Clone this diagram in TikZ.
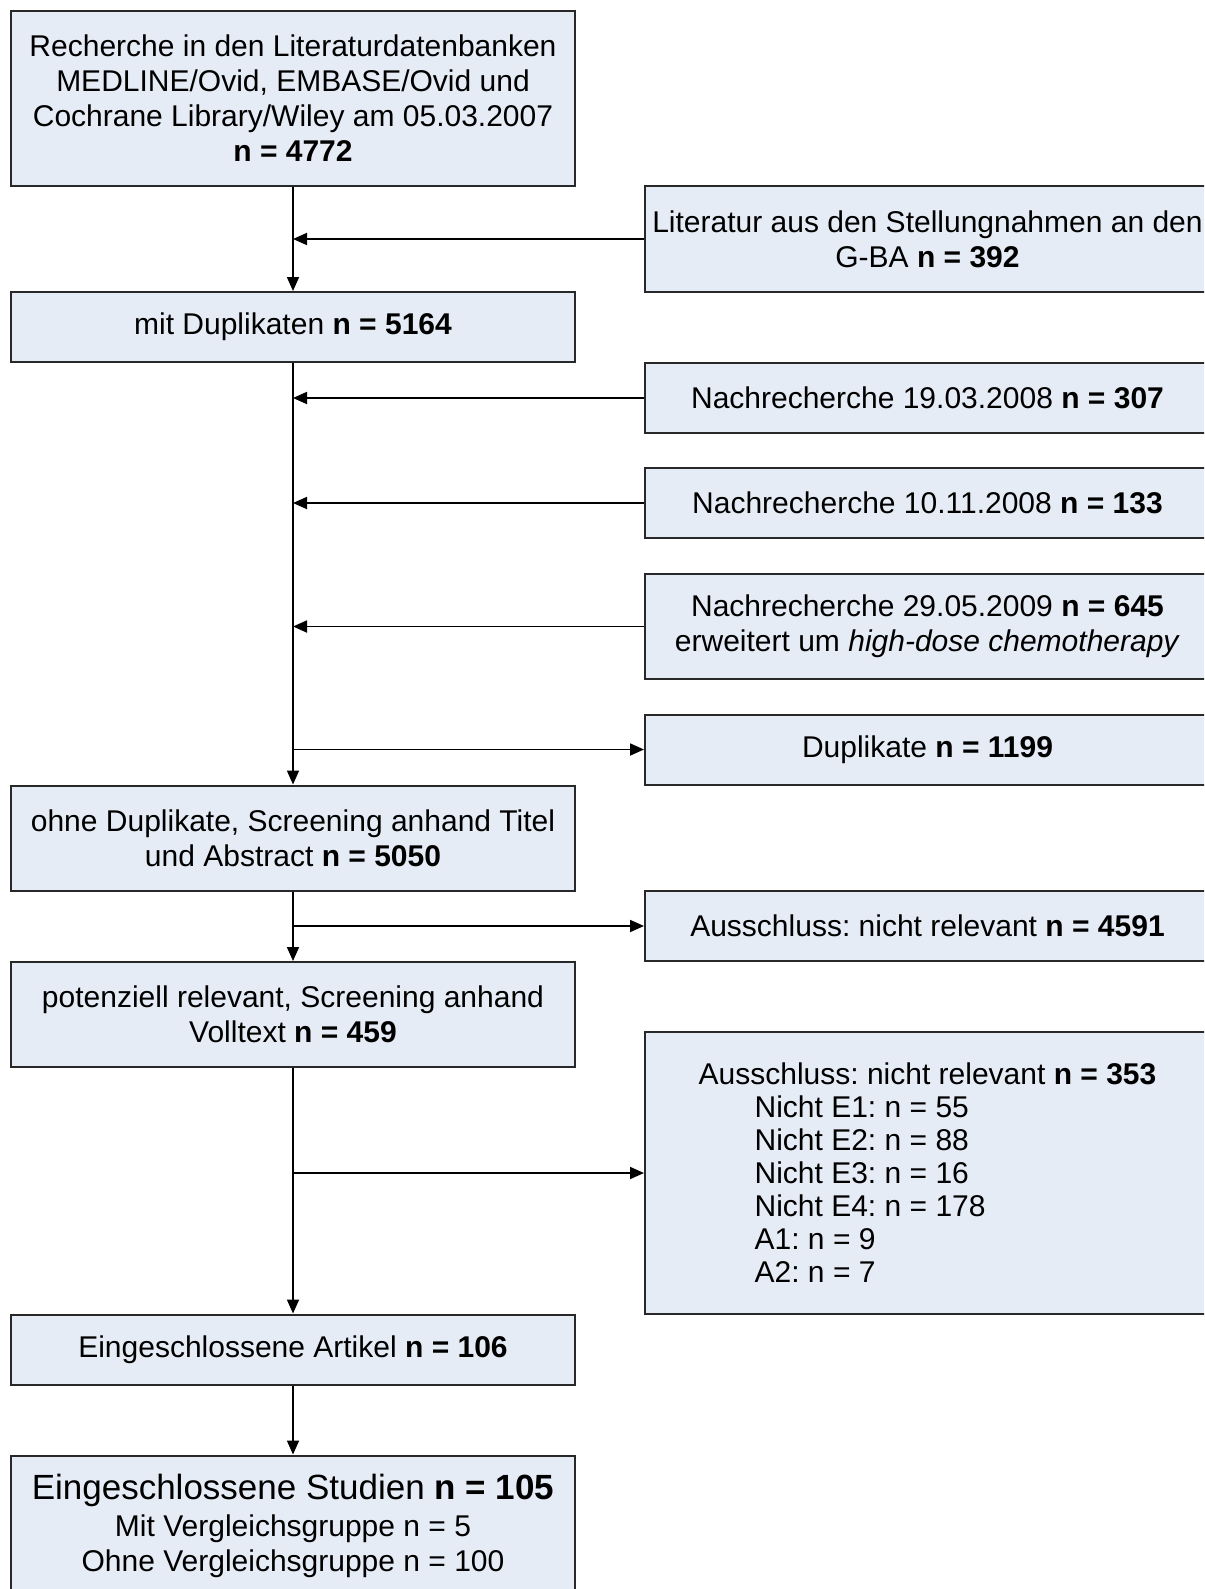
\documentclass[tikz,border=0pt]{standalone}
\usepackage{fontspec}
\setmainfont{Liberation Sans}
\frenchspacing
\usetikzlibrary{arrows.meta}
\definecolor{boxfill}{RGB}{230,236,246}
\definecolor{boxline}{RGB}{40,40,40}
\tikzset{
  box/.style={draw=boxline, line width=1pt, fill=boxfill, rectangle, align=center, inner sep=0pt,
    font=\fontsize{15}{17.5}\selectfont},
  arr/.style={draw=black, line width=0.9pt, -{Triangle[length=7pt,width=6pt]}},
  ln/.style={draw=black, line width=0.9pt}
}
\begin{document}
\begin{tikzpicture}[x=0.5pt,y=-0.5pt]
\useasboundingbox (0,0) rectangle (1204,1589);
\fill[white] (0,0) rectangle (1204,1589);
\clip (0,0) rectangle (1204,1589);
% left column
\node[box, minimum width=282pt, minimum height=87.5pt] (B1) at (293,98.5)
  {Recherche in den Literaturdatenbanken\\MEDLINE/Ovid, EMBASE/Ovid und\\Cochrane Library/Wiley am 05.03.2007\\\textbf{n = 4772}};
\node[box, minimum width=282pt, minimum height=35pt] (B3) at (293,327)
  {mit Duplikaten \textbf{n = 5164}};
\node[box, minimum width=282pt, minimum height=52.5pt] (B5) at (293,838)
  {ohne Duplikate, Screening anhand Titel\\und Abstract \textbf{n = 5050}};
\node[box, minimum width=282pt, minimum height=52.5pt] (B7) at (293,1014.5)
  {potenziell relevant, Screening anhand\\Volltext \textbf{n = 459}};
\node[box, minimum width=282pt, minimum height=35pt] (B9) at (293,1349.5)
  {Eingeschlossene Artikel \textbf{n = 106}};
\node[box, minimum width=282pt, minimum height=70pt] (B10) at (293,1525.5)
  {{\fontsize{17.5}{19}\selectfont Eingeschlossene Studien \textbf{n = 105}}\\[1pt]
   Mit Vergleichsgruppe n = 5\\Ohne Vergleichsgruppe n = 100};
% right column
\node[box, minimum width=282.5pt, minimum height=52.5pt] (R1) at (927.5,239)
  {Literatur aus den Stellungnahmen an den\\G-BA \textbf{n = 392}};
\node[box, minimum width=282.5pt, minimum height=35pt] (R2) at (927.5,398)
  {Nachrecherche 19.03.2008 \textbf{n = 307}};
\node[box, minimum width=282.5pt, minimum height=35pt] (R3) at (927.5,503)
  {Nachrecherche 10.11.2008 \textbf{n = 133}};
\node[box, minimum width=282.5pt, minimum height=52.5pt] (R4) at (927.5,626.5)
  {Nachrecherche 29.05.2009 \textbf{n = 645}\\erweitert um \textit{high-dose chemotherapy}};
\node[box, minimum width=282.5pt, minimum height=35pt] (R5) at (927.5,749.5)
  {Duplikate \textbf{n = 1199}};
\node[box, minimum width=282.5pt, minimum height=35pt] (R6) at (927.5,926)
  {Ausschluss: nicht relevant \textbf{n = 4591}};
\node[box, minimum width=282.5pt, minimum height=140.75pt, align=left,
  font=\fontsize{15}{16.5}\selectfont] (R7) at (927.5,1173)
  {Ausschluss: nicht relevant \textbf{n = 353}\\
   \hspace*{28pt}Nicht E1: n = 55\\
   \hspace*{28pt}Nicht E2: n = 88\\
   \hspace*{28pt}Nicht E3: n = 16\\
   \hspace*{28pt}Nicht E4: n = 178\\
   \hspace*{28pt}A1: n = 9\\
   \hspace*{28pt}A2: n = 7};
% connectors
\draw[arr] (B1.south) -- (B3.north);
\draw[arr] (R1.west) -- (R1.west -| B1.south);
\draw[arr] (B3.south) -- (B5.north);
\draw[arr] (R2.west) -- (R2.west -| B3.south);
\draw[arr] (R3.west) -- (R3.west -| B3.south);
\draw[arr] (R4.west) -- (R4.west -| B3.south);
\draw[arr] (R5.west -| B3.south) -- (R5.west);
\draw[arr] (B5.south) -- (B7.north);
\draw[arr] (R6.west -| B5.south) -- (R6.west);
\draw[arr] (B7.south) -- (B9.north);
\draw[arr] (R7.west -| B7.south) -- (R7.west);
\draw[arr] (B9.south) -- (B10.north);
\end{tikzpicture}
\end{document}
